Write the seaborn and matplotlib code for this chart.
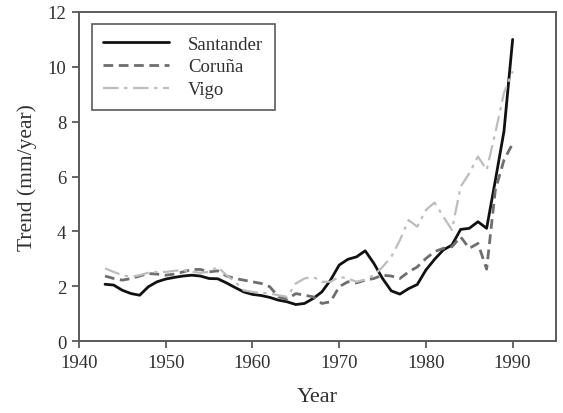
import matplotlib
matplotlib.use("Agg")
import matplotlib.pyplot as plt
import seaborn as sns
import pandas as pd

years = list(range(1943, 1991))

santander = [2.07, 2.04, 1.85, 1.73, 1.67, 1.98, 2.16, 2.26, 2.32, 2.37,
             2.40, 2.37, 2.28, 2.27, 2.12, 1.95, 1.79, 1.70, 1.66, 1.59,
             1.49, 1.43, 1.33, 1.37, 1.55, 1.79, 2.22, 2.77, 2.98, 3.07,
             3.29, 2.83, 2.28, 1.83, 1.71, 1.91, 2.06, 2.59, 2.98, 3.32,
             3.50, 4.07, 4.11, 4.35, 4.11, 5.85, 7.65, 11.0]

coruna = [2.37, 2.28, 2.22, 2.28, 2.37, 2.46, 2.44, 2.40, 2.44, 2.52,
          2.61, 2.61, 2.52, 2.56, 2.37, 2.28, 2.22, 2.16, 2.10, 1.98,
          1.61, 1.52, 1.73, 1.67, 1.61, 1.37, 1.43, 1.98, 2.16, 2.12,
          2.22, 2.28, 2.40, 2.37, 2.28, 2.52, 2.70, 3.01, 3.26, 3.38,
          3.44, 3.80, 3.38, 3.56, 2.62, 5.50, 6.60, 7.20]

vigo = [2.65, 2.52, 2.40, 2.34, 2.40, 2.49, 2.52, 2.52, 2.56, 2.59,
        2.52, 2.49, 2.52, 2.70, 2.40, 2.16, 1.85, 1.79, 1.76, 1.73,
        1.67, 1.61, 2.10, 2.28, 2.34, 2.16, 2.16, 2.34, 2.28, 2.16,
        2.24, 2.40, 2.70, 3.07, 3.68, 4.41, 4.17, 4.78, 5.05, 4.54,
        4.05, 5.63, 6.12, 6.73, 6.24, 7.59, 9.05, 9.84]

series_names = ["Santander", "Coruña", "Vigo"]
x_ticks = [1940, 1950, 1960, 1970, 1980, 1990]
y_ticks = [0, 2, 4, 6, 8, 10, 12]

sns.set_style("ticks")
plt.rcParams["font.family"] = ["Liberation Serif", "DejaVu Serif"]

text_color = "#303030"
spine_color = "#5a5a5a"

fig = plt.figure(figsize=(5.63, 4.14), dpi=100)
ax = fig.add_axes([0.1403, 0.1739, 0.8473, 0.7947])

styles = {
    "Santander": dict(color="#111111", lw=2.0, dashes=(None, None)),
    "Coruña": dict(color="#6e6e6e", lw=2.0, dashes=(3.5, 2.0)),
    "Vigo": dict(color="#bdbdbd", lw=1.6, dashes=(7, 2.5, 1.5, 2.5)),
}

for name, values in zip(series_names, [santander, coruna, vigo]):
    df = pd.DataFrame({"Year": years, "Trend": values})
    st = styles[name]
    line_ax = sns.lineplot(data=df, x="Year", y="Trend", ax=ax, color=st["color"],
                           linewidth=st["lw"], label=name)
    line = line_ax.get_lines()[-1]
    if st["dashes"][0] is not None:
        line.set_dashes(st["dashes"])

ax.set_xlim(1940, 1995)
ax.set_ylim(0, 12)
ax.set_xticks(x_ticks)
ax.set_yticks(y_ticks)
ax.tick_params(axis="both", labelsize=13.5, colors=spine_color, labelcolor=text_color,
               length=5, width=1.3, pad=4)
for sp in ax.spines.values():
    sp.set_color(spine_color)
    sp.set_linewidth(1.4)

ax.set_xlabel("Year", fontsize=16, color=text_color, labelpad=12)
ax.set_ylabel("Trend (mm/year)", fontsize=15.5, color=text_color, labelpad=8)

leg = ax.legend(loc="upper left", bbox_to_anchor=(0.027, 0.964), borderaxespad=0,
                fontsize=13.5, handlelength=3.5, handletextpad=1.0, labelspacing=0.3,
                borderpad=0.62, fancybox=False, framealpha=1)
leg.get_frame().set_edgecolor(spine_color)
leg.get_frame().set_linewidth(1.2)
for t in leg.get_texts():
    t.set_color(text_color)
for h, name in zip(leg.get_lines(), series_names):
    st = styles[name]
    if st["dashes"][0] is not None:
        h.set_dashes(st["dashes"])

fig.savefig("out.png", dpi=100)
